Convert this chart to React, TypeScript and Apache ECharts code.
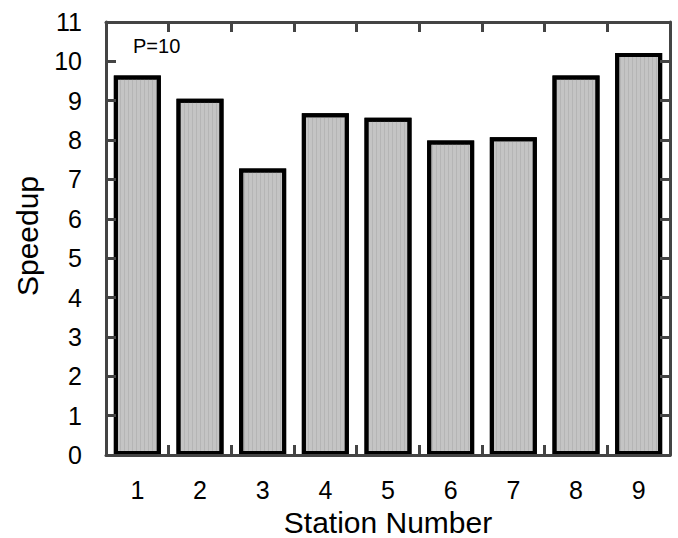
import React, { useEffect, useRef } from "react";
import * as echarts from "echarts";

const stations = ["1", "2", "3", "4", "5", "6", "7", "8", "9"];
const speedup = [9.64, 9.05, 7.28, 8.68, 8.57, 7.99, 8.07, 9.64, 10.21];
const yMin = 0;
const yMax = 11;
const yStep = 1;
const xTitle = "Station Number";
const yTitle = "Speedup";
const note = "P=10";

const FONT = "'Liberation Sans', Arial, Helvetica, sans-serif";
const FRAME = "#444444";

const mkLine = () => ({ show: true, onZero: false, lineStyle: { color: FRAME, width: 3 } });
const mkTick = () => ({ show: true, inside: true, length: 10, lineStyle: { color: FRAME, width: 3 } });

export default function App() {
  const ref = useRef<HTMLDivElement>(null);
  useEffect(() => {
    document.body.style.margin = "0";
    const chart = echarts.init(ref.current!, undefined, { renderer: "svg" });
    chart.setOption({
      animation: false,
      backgroundColor: "#ffffff",
      grid: { left: 106, right: 8, top: 22, bottom: 83, containLabel: false },
      xAxis: [
        {
          type: "category",
          data: stations,
          position: "bottom",
          z: 10,
          axisLine: mkLine(),
          axisTick: mkTick(),
          axisLabel: { color: "#000", fontSize: 25, fontFamily: FONT, margin: 22 },
          splitLine: { show: false },
        },
        {
          type: "category",
          data: stations,
          position: "top",
          z: 10,
          axisLine: mkLine(),
          axisTick: mkTick(),
          axisLabel: { show: false },
          splitLine: { show: false },
        },
      ],
      yAxis: [
        {
          type: "value",
          min: yMin,
          max: yMax,
          interval: yStep,
          position: "left",
          z: 10,
          axisLine: mkLine(),
          axisTick: mkTick(),
          axisLabel: { color: "#000", fontSize: 25, fontFamily: FONT, margin: 24 },
          splitLine: { show: false },
        },
        {
          type: "value",
          min: yMin,
          max: yMax,
          interval: yStep,
          position: "right",
          z: 10,
          axisLine: mkLine(),
          axisTick: mkTick(),
          axisLabel: { show: false },
          splitLine: { show: false },
        },
      ],
      series: [
        {
          type: "bar",
          xAxisIndex: 0,
          yAxisIndex: 0,
          data: speedup,
          barWidth: 47,
          itemStyle: {
            color: "#c4c4c4",
            borderColor: "#000000",
            borderWidth: 4,
            decal: {
              symbol: "rect",
              symbolSize: 1,
              color: "rgba(150,150,150,0.35)",
              dashArrayX: [1, 3],
              dashArrayY: [1, 0],
              rotation: 0,
            },
          },
        },
      ],
      graphic: [
        {
          type: "text",
          x: 27,
          y: 236,
          rotation: Math.PI / 2,
          style: {
            text: yTitle,
            fontSize: 30,
            fontFamily: FONT,
            fill: "#000",
            align: "center",
            verticalAlign: "middle",
          },
        },
        {
          type: "text",
          x: 388,
          y: 522,
          style: {
            text: xTitle,
            fontSize: 30,
            fontFamily: FONT,
            fill: "#000",
            align: "center",
            verticalAlign: "middle",
          },
        },
        {
          type: "text",
          x: 133,
          y: 46,
          style: {
            text: note,
            fontSize: 20,
            fontFamily: FONT,
            fill: "#000",
            align: "left",
            verticalAlign: "middle",
          },
        },
      ],
    });
    return () => chart.dispose();
  }, []);
  return <div ref={ref} style={{ position: "fixed", left: 0, top: 0, width: 678, height: 538 }} />;
}
